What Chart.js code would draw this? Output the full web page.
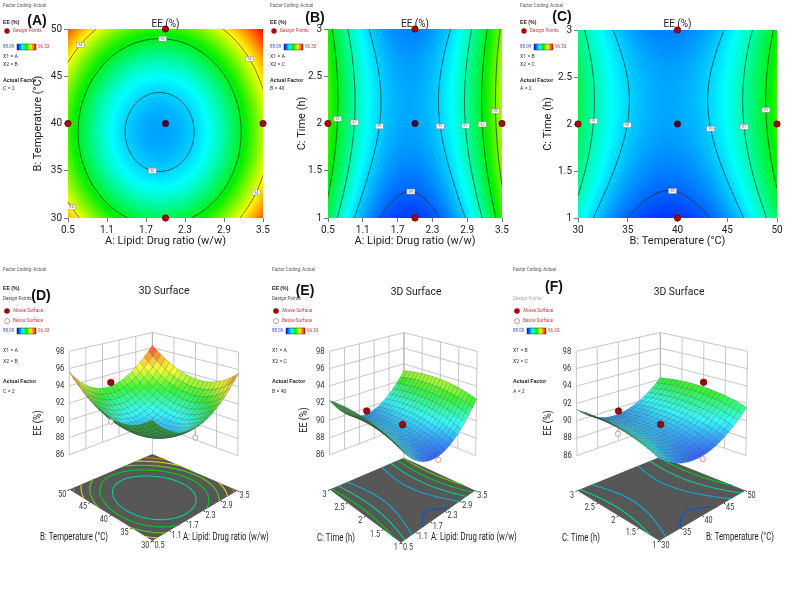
<!DOCTYPE html>
<html><head><meta charset="utf-8">
<script src="https://cdn.jsdelivr.net/npm/chart.js@4.4.1/dist/chart.umd.min.js"></script>
<style>
html,body{margin:0;padding:0;background:#fff;}
#wrap{position:relative;width:788px;height:593px;overflow:hidden;background:#fff}
canvas{position:absolute;left:0;top:0}
</style></head><body><div id="wrap">
<canvas id="cA" width="788" height="593"></canvas>
<canvas id="cB" width="788" height="593"></canvas>
<canvas id="cC" width="788" height="593"></canvas>
<canvas id="cD" width="788" height="593"></canvas>
<canvas id="cE" width="788" height="593"></canvas>
<canvas id="cF" width="788" height="593"></canvas>
</div>
<script>
// ---------------- DATA ----------------
const EE_MIN = 88.09, EE_MAX = 96.33;
const lipidTicks = [0.5, 1.1, 1.7, 2.3, 2.9, 3.5];
const tempTicks  = [30, 35, 40, 45, 50];
const timeTicks  = [1, 1.5, 2, 2.5, 3];
const eeTicks    = [86, 88, 90, 92, 94, 96, 98];

// EE (%) at Lipid:Drug (cols) x Temperature (rows), Time = 2 h
const eeLipidTemp = [
  [94.71, 92.65, 91.70, 91.87, 93.15, 95.55],
  [93.06, 91.00, 90.05, 90.22, 91.50, 93.90],
  [92.66, 90.60, 89.65, 89.82, 91.10, 93.50],
  [93.51, 91.45, 90.50, 90.67, 91.95, 94.35],
  [95.61, 93.55, 92.60, 92.77, 94.05, 96.33]
];
// EE (%) at Lipid:Drug (cols) x Time (rows), Temperature = 40
const eeLipidTime = [
  [91.66, 89.60, 88.65, 88.82, 90.10, 92.50],
  [92.33, 90.27, 89.32, 89.49, 90.77, 93.17],
  [92.66, 90.60, 89.65, 89.82, 91.10, 93.50],
  [92.66, 90.59, 89.64, 89.81, 91.09, 93.49],
  [92.31, 90.25, 89.30, 89.47, 90.75, 93.15]
];
// EE (%) at Temperature (cols) x Time (rows), Lipid:Drug = 2
const eeTempTime = [
  [90.64, 88.99, 88.59, 89.44, 91.54],
  [91.31, 89.66, 89.26, 90.11, 92.21],
  [91.64, 89.99, 89.59, 90.44, 92.54],
  [91.64, 89.99, 89.59, 90.44, 92.54],
  [91.29, 89.64, 89.24, 90.09, 92.19]
];

const levelsLipidTemp = [90, 92, 94];
const levelsLipidTime = [89, 90, 91, 92, 93];
const levelsTempTime  = [89, 90, 91, 92];
const floorLevelsLipidTemp = [91, 92, 93, 94, 95];
const floorLevelsLipidTime = [89, 90, 91, 92, 93];
const floorLevelsTempTime  = [89, 90, 91, 92];

const designLipidTemp = [[0.5, 40], [3.5, 40], [2, 30], [2, 50], [2, 40]];
const designLipidTime = [[0.5, 2], [3.5, 2], [2, 1], [2, 3], [2, 2]];
const designTempTime  = [[30, 2], [50, 2], [40, 1], [40, 3], [40, 2]];

// visible design points on the 3D plots: [x1, x2, EE]
const pointsD = [[2, 50, 93.0], [0.5, 40, 92.3], [2, 30, 90.6]];
const pointsE = [[2, 3, 89.6], [2, 2, 90.1], [2, 1, 88.2]];
const pointsF = [[40, 3, 89.6], [50, 2, 93.1], [40, 2, 90.1], [30, 2, 91.0], [40, 1, 88.2]];

// contour label anchors: [level, x, y]
const labelsA = [[90, 1.8, 35.2], [92, 1.95, 48.9], [94, 0.68, 48.3], [94, 3.28, 46.8], [94, 0.6, 31.3], [94, 3.35, 32.9]];
const labelsB = [[92, 0.67, 2.05], [91, 0.96, 2.0], [90, 1.36, 1.97], [90, 2.43, 1.97], [91, 2.83, 1.98], [92, 3.11, 1.98], [93, 3.34, 2.12], [89, 1.94, 1.31]];
const labelsC = [[91, 31.74, 2.02], [90, 35.09, 1.98], [90, 43.4, 1.96], [91, 46.6, 1.96], [92, 48.66, 2.15], [89, 39.5, 1.30]];

// ---------------- HELPERS ----------------
const FF = '"Roboto","Liberation Sans",sans-serif';
const FB = '"Liberation Sans",Arial,sans-serif';
const Z_FLOOR = 82, Z_TOP = 98;
const CM = [[0, [0, 0, 255]], [0.28, [0, 255, 255]], [0.5, [0, 240, 0]], [0.72, [255, 255, 0]], [1, [255, 0, 0]]];
function cmap(v) {
  let t = (v - EE_MIN) / (EE_MAX - EE_MIN); t = Math.max(0, Math.min(1, t));
  for (let k = 1; k < CM.length; k++) if (t <= CM[k][0]) {
    const [t0, c0] = CM[k - 1], [t1, c1] = CM[k]; const f = (t - t0) / (t1 - t0);
    return c0.map((c, i) => Math.round(c + (c1[i] - c) * f));
  }
  return CM[CM.length - 1][1];
}
const rgb = c => `rgb(${c[0]},${c[1]},${c[2]})`;
function cr(p0, p1, p2, p3, f) { return 0.5 * (2 * p1 + (-p0 + p2) * f + (2 * p0 - 5 * p1 + 4 * p2 - p3) * f * f + (-p0 + 3 * p1 - 3 * p2 + p3) * f * f * f); }
function sample1(arr, t) {
  const n = arr.length; let i = Math.floor(t); if (i < 0) i = 0; if (i > n - 2) i = n - 2; const f = t - i;
  const g = k => k < 0 ? 3 * arr[0] - 3 * arr[1] + arr[2] : k > n - 1 ? 3 * arr[n - 1] - 3 * arr[n - 2] + arr[n - 3] : arr[k];
  return cr(g(i - 1), g(i), g(i + 1), g(i + 2), f);
}
function makeField(xs, ys, grid) {
  const x0 = xs[0], dx = xs[1] - xs[0], y0 = ys[0], dy = ys[1] - ys[0];
  return (x, y) => { const tx = (x - x0) / dx, ty = (y - y0) / dy; return sample1(grid.map(r => sample1(r, tx)), ty); };
}
function sampleField(field, x0, x1, y0, y1, N) {
  const v = new Float64Array((N + 1) * (N + 1));
  for (let j = 0; j <= N; j++) for (let i = 0; i <= N; i++) v[j * (N + 1) + i] = field(x0 + (x1 - x0) * i / N, y0 + (y1 - y0) * j / N);
  return { v, N, x0, x1, y0, y1 };
}
function isoSegments(S, L) {
  const { v, N, x0, x1, y0, y1 } = S, segs = [];
  const X = i => x0 + (x1 - x0) * i / N, Y = j => y0 + (y1 - y0) * j / N;
  for (let j = 0; j < N; j++) for (let i = 0; i < N; i++) {
    const a = v[j * (N + 1) + i], b = v[j * (N + 1) + i + 1], c = v[(j + 1) * (N + 1) + i + 1], d = v[(j + 1) * (N + 1) + i];
    const pts = [];
    const edge = (va, vb, xa, ya, xb, yb) => { if ((va < L) !== (vb < L)) { const t = (L - va) / (vb - va); pts.push([xa + (xb - xa) * t, ya + (yb - ya) * t]); } };
    edge(a, b, X(i), Y(j), X(i + 1), Y(j));
    edge(b, c, X(i + 1), Y(j), X(i + 1), Y(j + 1));
    edge(c, d, X(i + 1), Y(j + 1), X(i), Y(j + 1));
    edge(d, a, X(i), Y(j + 1), X(i), Y(j));
    if (pts.length === 2) segs.push([pts[0], pts[1]]);
    else if (pts.length === 4) { segs.push([pts[0], pts[1]]); segs.push([pts[2], pts[3]]); }
  }
  return segs;
}
function txt(ctx, s, x, y, o = {}) {
  ctx.save();
  ctx.font = (o.bold ? 'bold ' : '') + (o.size || 5.5) + 'px ' + (o.family || FF);
  ctx.fillStyle = o.color || '#333'; ctx.textAlign = o.align || 'left'; ctx.textBaseline = 'middle';
  ctx.translate(x, y);
  if (o.rot) ctx.rotate(o.rot);
  ctx.scale(o.sx || 1, 1);
  ctx.fillText(s, 0, 0);
  ctx.restore();
}
function colorBar(ctx, x, y) {
  txt(ctx, '88.09', x, y, { color: '#3a4fd0', size: 5, sx: 0.9 });
  const g = ctx.createLinearGradient(x + 14, 0, x + 33, 0);
  CM.forEach(([t, c]) => g.addColorStop(t, rgb(c)));
  ctx.fillStyle = g; ctx.fillRect(x + 14, y - 3, 19, 6);
  ctx.strokeStyle = '#333'; ctx.lineWidth = 0.5; ctx.strokeRect(x + 14, y - 3, 19, 6);
  txt(ctx, '96.33', x + 35, y, { color: '#d03a3a', size: 5, sx: 0.9 });
}
function legend2D(ctx, x, c) {
  txt(ctx, 'Factor Coding: Actual', x, 6, { color: '#555', size: 5, sx: 0.9 });
  txt(ctx, 'EE (%)', x, 23, { bold: true, size: 5.2, color: '#222', family: FB });
  ctx.fillStyle = '#a80808'; ctx.beginPath(); ctx.arc(x + 4, 31, 2.7, 0, 7); ctx.fill();
  txt(ctx, 'Design Points', x + 10, 31, { color: '#c83a3a', size: 5.2, sx: 0.9 });
  colorBar(ctx, x, 47);
  txt(ctx, c.x1, x, 57, { size: 5.2 }); txt(ctx, c.x2, x, 65, { size: 5.2 });
  txt(ctx, 'Actual Factor', x, 81, { bold: true, size: 5.2, color: '#222', family: FB });
  txt(ctx, c.af, x, 89, { size: 5.2 });
}
function legend3D(ctx, x, c) {
  txt(ctx, 'Factor Coding: Actual', x, 270, { color: '#555', size: 5, sx: 0.9 });
  if (!c.hideEE) txt(ctx, 'EE (%)', x, 289, { bold: true, size: 5.2, color: '#222', family: FB });
  txt(ctx, 'Design Points', x, 299, { size: 5.2, sx: 0.9, color: c.hideEE ? '#aaa' : '#444' });
  ctx.fillStyle = '#a00808'; ctx.beginPath(); ctx.arc(x + 4, 311, 2.8, 0, 7); ctx.fill();
  txt(ctx, 'Above Surface', x + 10, 311, { color: '#c83a3a', size: 5.2, sx: 0.9 });
  ctx.strokeStyle = '#d08080'; ctx.lineWidth = 0.8; ctx.beginPath(); ctx.arc(x + 4, 321, 2.6, 0, 7); ctx.stroke();
  txt(ctx, 'Below Surface', x + 10, 321, { color: '#c83a3a', size: 5.2, sx: 0.9 });
  colorBar(ctx, x, 331);
  txt(ctx, c.x1, x, 351, { size: 5.2 }); txt(ctx, c.x2, x, 362, { size: 5.2 });
  txt(ctx, 'Actual Factor', x, 382, { bold: true, size: 5.2, color: '#222', family: FB });
  txt(ctx, c.af, x, 392, { size: 5.2 });
}
function axisOpts(ticks, title, kind, size) {
  return {
    type: 'linear', min: ticks[0], max: ticks[ticks.length - 1],
    afterBuildTicks: s => { s.ticks = ticks.map(v => ({ value: v })); },
    afterFit: s => { if (kind === 'x') s.height = 30; else s.width = size; },
    grid: { display: true, drawOnChartArea: false, drawTicks: true, tickLength: 4, color: '#555', lineWidth: 0.8 },
    border: { display: false },
    ticks: { autoSkip: false, maxRotation: 0, padding: 2, color: '#222', font: { family: FF, size: 10 }, callback: v => String(v) },
    title: { display: true, text: title, color: '#222', font: { family: FF, size: 11 }, padding: 0 }
  };
}

// ---------------- CONTOUR PANELS ----------------
function makeContour(c) {
  const field = makeField(c.xs, c.ys, c.grid);
  const [L, T, R, B] = c.area;
  const plugin = {
    id: 'contour' + c.id,
    beforeDatasetsDraw(chart) {
      const { ctx, chartArea: a, scales: { x, y } } = chart;
      const w = Math.ceil(a.right - a.left), h = Math.ceil(a.bottom - a.top);
      const off = document.createElement('canvas'); off.width = w; off.height = h;
      const o = off.getContext('2d'); const img = o.createImageData(w, h);
      for (let j = 0; j < h; j++) {
        const yv = y.getValueForPixel(a.top + j + 0.5);
        for (let i = 0; i < w; i++) {
          const xv = x.getValueForPixel(a.left + i + 0.5);
          const col = cmap(field(xv, yv)); const k = (j * w + i) * 4;
          img.data[k] = col[0]; img.data[k + 1] = col[1]; img.data[k + 2] = col[2]; img.data[k + 3] = 255;
        }
      }
      o.putImageData(img, 0, 0);
      ctx.save();
      ctx.drawImage(off, a.left, a.top, a.right - a.left, a.bottom - a.top);
      ctx.beginPath(); ctx.rect(a.left, a.top, a.right - a.left, a.bottom - a.top); ctx.clip();
      const S = sampleField(field, x.min, x.max, y.min, y.max, 100);
      const segsBy = {};
      ctx.strokeStyle = 'rgba(20,40,30,0.85)'; ctx.lineWidth = 0.8;
      c.levels.forEach(lv => {
        const segs = isoSegments(S, lv); segsBy[lv] = segs;
        ctx.beginPath();
        segs.forEach(([p, q]) => { ctx.moveTo(x.getPixelForValue(p[0]), y.getPixelForValue(p[1])); ctx.lineTo(x.getPixelForValue(q[0]), y.getPixelForValue(q[1])); });
        ctx.stroke();
      });
      c.labels.forEach(([lv, lx, ly]) => {
        const px = x.getPixelForValue(lx), py = y.getPixelForValue(ly);
        let best = null, bd = 1e9;
        (segsBy[lv] || []).forEach(([p, q]) => {
          const mx = x.getPixelForValue((p[0] + q[0]) / 2), my = y.getPixelForValue((p[1] + q[1]) / 2);
          const d = (mx - px) ** 2 + (my - py) ** 2; if (d < bd) { bd = d; best = [mx, my]; }
        });
        if (!best) return;
        ctx.fillStyle = '#fff'; ctx.fillRect(best[0] - 4, best[1] - 2.5, 8, 5);
        ctx.strokeStyle = '#888'; ctx.lineWidth = 0.5; ctx.strokeRect(best[0] - 4, best[1] - 2.5, 8, 5);
        txt(ctx, String(lv), best[0], best[1] + 0.2, { size: 3.8, align: 'center', color: '#666' });
      });
      ctx.restore();
    },
    afterDraw(chart) {
      const ctx = chart.ctx, a = chart.chartArea;
      txt(ctx, 'EE (%)', (a.left + a.right) / 2, 24, { size: 10, align: 'center', color: '#222' });
      txt(ctx, c.letter, c.letterPos[0], c.letterPos[1], { size: 14, bold: true, align: 'center', color: '#111', family: FB });
      legend2D(ctx, c.legendX, c);
    }
  };
  new Chart(document.getElementById(c.id), {
    type: 'scatter',
    data: { datasets: [{
      data: c.design.map(([x, y]) => ({ x, y })), clip: false,
      pointRadius: 3.2, pointHoverRadius: 3.2,
      pointBackgroundColor: c.design.map((p, i) => i === c.design.length - 1 ? '#3c0a34' : '#a80808'),
      pointBorderColor: '#4a0000', pointBorderWidth: 0.6
    }] },
    options: {
      responsive: false, animation: false, events: [],
      layout: { padding: { left: L - c.yW, top: T, right: 788 - R, bottom: 593 - B - 30 } },
      plugins: { legend: { display: false }, tooltip: { enabled: false } },
      scales: { x: axisOpts(c.xs, c.xTitle, 'x'), y: axisOpts(c.ys, c.yTitle, 'y', c.yW) }
    },
    plugins: [plugin]
  });
}

// ---------------- 3D SURFACE PANELS ----------------
function boxPoint(b, u, v, z) {
  const bl = (F, R, B, L) => [
    (1 - u) * (1 - v) * F[0] + u * (1 - v) * R[0] + u * v * B[0] + (1 - u) * v * L[0],
    (1 - u) * (1 - v) * F[1] + u * (1 - v) * R[1] + u * v * B[1] + (1 - u) * v * L[1]];
  const f = bl(b.F, b.R, b.B, b.L), t = bl(b.tF, b.tR, b.tB, b.tL);
  const s = (z - Z_FLOOR) / (Z_TOP - Z_FLOOR);
  return [f[0] + (t[0] - f[0]) * s, f[1] + (t[1] - f[1]) * s];
}
function makeSurface(c) {
  const field = makeField(c.xs, c.ys, c.grid);
  const xr = [c.xs[0], c.xs[c.xs.length - 1]], yr = [c.ys[0], c.ys[c.ys.length - 1]];
  const toU = a => (a - xr[0]) / (xr[1] - xr[0]), toV = b => (b - yr[0]) / (yr[1] - yr[0]);
  const above = [], below = [];
  c.points.forEach(([a, b, val]) => {
    const u = toU(a), v = toV(b); const p = boxPoint(c.box, u, v, val);
    (val >= field(a, b) ? above : below).push({ x: p[0], y: p[1], u, v, a, b, val });
  });
  const plugin = {
    id: 'surf' + c.id,
    beforeDatasetsDraw(chart) {
      const { ctx, scales: { x, y } } = chart;
      const pr = (u, v, z) => { const p = boxPoint(c.box, u, v, z); return [x.getPixelForValue(p[0]), y.getPixelForValue(p[1])]; };
      const line = (p, q) => { ctx.moveTo(p[0], p[1]); ctx.lineTo(q[0], q[1]); };
      ctx.save();
      // walls
      ctx.strokeStyle = '#b8b8b8'; ctx.lineWidth = 0.8; ctx.beginPath();
      eeTicks.forEach(z => { line(pr(0, 1, z), pr(1, 1, z)); line(pr(1, 0, z), pr(1, 1, z)); });
      c.xs.forEach(t => { const u = toU(t); line(pr(u, 1, eeTicks[0]), pr(u, 1, Z_TOP)); });
      c.ys.forEach(t => { const v = toV(t); line(pr(1, v, eeTicks[0]), pr(1, v, Z_TOP)); });
      line(pr(1, 1, Z_FLOOR), pr(1, 1, Z_TOP));
      ctx.stroke();
      // floor
      const fc = [pr(0, 0, Z_FLOOR), pr(1, 0, Z_FLOOR), pr(1, 1, Z_FLOOR), pr(0, 1, Z_FLOOR)];
      ctx.fillStyle = '#575757'; ctx.beginPath(); fc.forEach((p, i) => i ? ctx.lineTo(p[0], p[1]) : ctx.moveTo(p[0], p[1])); ctx.closePath(); ctx.fill();
      const S = sampleField(field, xr[0], xr[1], yr[0], yr[1], 70);
      ctx.lineWidth = 1.1;
      c.floorLevels.forEach(lv => {
        const cc = cmap(lv).map(v => Math.round(v * 0.85));
        ctx.strokeStyle = rgb(cc); ctx.beginPath();
        isoSegments(S, lv).forEach(([p, q]) => line(pr(toU(p[0]), toV(p[1]), Z_FLOOR), pr(toU(q[0]), toV(q[1]), Z_FLOOR)));
        ctx.stroke();
      });
      // floor edge ticks
      ctx.strokeStyle = '#111'; ctx.lineWidth = 1; ctx.beginPath();
      c.xs.forEach(t => { const p = pr(toU(t), 0, Z_FLOOR); line(p, [p[0] + 1.5, p[1] + 1.5]); });
      c.ys.forEach(t => { const p = pr(0, toV(t), Z_FLOOR); line(p, [p[0] - 1.5, p[1] + 1.5]); });
      ctx.stroke();
      // surface
      const N = 20, nodes = [];
      for (let i = 0; i <= N; i++) { nodes.push([]); for (let j = 0; j <= N; j++) {
        const u = i / N, v = j / N, val = field(xr[0] + u * (xr[1] - xr[0]), yr[0] + v * (yr[1] - yr[0]));
        nodes[i].push({ p: pr(u, v, val), u, v, s: (val - Z_FLOOR) / (Z_TOP - Z_FLOOR) * 0.85, val });
      } }
      const quads = [];
      for (let i = 0; i < N; i++) for (let j = 0; j < N; j++) quads.push([i, j]);
      quads.sort((q1, q2) => (q2[0] + q2[1]) - (q1[0] + q1[1]));
      const Ld = [-0.45, -0.55, 0.70];
      quads.forEach(([i, j]) => {
        const n = [nodes[i][j], nodes[i + 1][j], nodes[i + 1][j + 1], nodes[i][j + 1]];
        let area = 0; for (let k = 0; k < 4; k++) { const p = n[k].p, q = n[(k + 1) % 4].p; area += p[0] * q[1] - q[0] * p[1]; }
        const avg = (n[0].val + n[1].val + n[2].val + n[3].val) / 4;
        const du = [n[1].u - n[0].u, 0, (n[1].s - n[0].s + n[2].s - n[3].s) / 2], dv = [0, n[3].v - n[0].v, (n[3].s - n[0].s + n[2].s - n[1].s) / 2];
        const nx = du[1] * dv[2] - du[2] * dv[1], ny = du[2] * dv[0] - du[0] * dv[2], nz = du[0] * dv[1] - du[1] * dv[0];
        const nl = Math.hypot(nx, ny, nz) || 1;
        const dot = Math.max(0, (nx * Ld[0] + ny * Ld[1] + nz * Ld[2]) / nl);
        let col = cmap(avg);
        if (area > 0) col = [55, 145, 55];
        else { const sh = 0.74 + 0.3 * dot; col = col.map(cc => Math.min(255, Math.round((cc * 0.8 + 255 * 0.2) * sh))); }
        ctx.beginPath(); n.forEach((nd, k) => k ? ctx.lineTo(nd.p[0], nd.p[1]) : ctx.moveTo(nd.p[0], nd.p[1])); ctx.closePath();
        ctx.fillStyle = rgb(col); ctx.fill();
        ctx.strokeStyle = 'rgba(45,60,60,0.42)'; ctx.lineWidth = 0.5; ctx.stroke();
      });
      // stems for below-surface points
      ctx.strokeStyle = '#c9a3a3'; ctx.lineWidth = 0.8; ctx.beginPath();
      below.forEach(pt => line(pr(pt.u, pt.v, pt.val), pr(pt.u, pt.v, field(pt.a, pt.b))));
      ctx.stroke();
      ctx.restore();
    },
    afterDraw(chart) {
      const { ctx, scales: { x, y } } = chart;
      const pr = (u, v, z) => { const p = boxPoint(c.box, u, v, z); return [x.getPixelForValue(p[0]), y.getPixelForValue(p[1])]; };
      txt(ctx, '3D Surface', c.titlePos[0], c.titlePos[1], { size: 11.5, align: 'center', color: '#222', sx: 0.9 });
      txt(ctx, c.letter, c.letterPos[0], c.letterPos[1], { size: 14, bold: true, align: 'center', color: '#111', family: FB });
      legend3D(ctx, c.legendX, c);
      eeTicks.forEach(z => { const p = pr(0, 1, z); txt(ctx, String(z), p[0] - 5, p[1], { size: 9, align: 'right', color: '#333', sx: 0.85 }); });
      txt(ctx, 'EE (%)', c.zTitlePos[0], c.zTitlePos[1], { size: 10, align: 'center', color: '#222', rot: -Math.PI / 2, sx: 0.9 });
      c.xs.forEach(t => { const p = pr(toU(t), 0, Z_FLOOR); txt(ctx, String(t), p[0] + 2, p[1] + 5, { size: 8.5, color: '#333', sx: 0.85 }); });
      c.ys.forEach(t => { const p = pr(0, toV(t), Z_FLOOR); txt(ctx, String(t), p[0] - 3, p[1] + 5, { size: 8.5, align: 'right', color: '#333', sx: 0.85 }); });
      txt(ctx, c.uTitle, c.uTitlePos[0], c.uTitlePos[1], { size: 10, color: '#222', sx: 0.78 });
      txt(ctx, c.vTitle, c.vTitlePos[0], c.vTitlePos[1], { size: 10, align: 'right', color: '#222', sx: 0.78 });
    }
  };
  new Chart(document.getElementById(c.id), {
    type: 'scatter',
    data: { datasets: [
      { data: below, clip: false, pointRadius: 2.6, pointHoverRadius: 2.6, pointBackgroundColor: 'rgba(255,255,255,0.85)', pointBorderColor: '#d48a8a', pointBorderWidth: 0.9 },
      { data: above, clip: false, pointRadius: 3.3, pointHoverRadius: 3.3, pointBackgroundColor: '#a00808', pointBorderColor: '#5a0000', pointBorderWidth: 0.6 }
    ] },
    options: {
      responsive: false, animation: false, events: [],
      layout: { padding: 0 },
      plugins: { legend: { display: false }, tooltip: { enabled: false } },
      scales: {
        x: { type: 'linear', min: 0, max: 788, display: false },
        y: { type: 'linear', min: 0, max: 593, reverse: true, display: false }
      }
    },
    plugins: [plugin]
  });
}

makeContour({ id: 'cA', xs: lipidTicks, ys: tempTicks, grid: eeLipidTemp, levels: levelsLipidTemp, labels: labelsA, design: designLipidTemp,
  xTitle: 'A: Lipid: Drug ratio (w/w)', yTitle: 'B: Temperature (°C)', area: [68, 29, 263, 218], yW: 36,
  letter: '(A)', letterPos: [37, 21], legendX: 3, x1: 'X1 = A', x2: 'X2 = B', af: 'C = 2' });
makeContour({ id: 'cB', xs: lipidTicks, ys: timeTicks, grid: eeLipidTime, levels: levelsLipidTime, labels: labelsB, design: designLipidTime,
  xTitle: 'A: Lipid: Drug ratio (w/w)', yTitle: 'C: Time (h)', area: [328, 29, 502, 218], yW: 32,
  letter: '(B)', letterPos: [315, 18], legendX: 270, x1: 'X1 = A', x2: 'X2 = C', af: 'B = 40' });
makeContour({ id: 'cC', xs: tempTicks, ys: timeTicks, grid: eeTempTime, levels: levelsTempTime, labels: labelsC, design: designTempTime,
  xTitle: 'B: Temperature (°C)', yTitle: 'C: Time (h)', area: [578, 30, 777, 218], yW: 36,
  letter: '(C)', letterPos: [562, 17], legendX: 520, x1: 'X1 = B', x2: 'X2 = C', af: 'A = 2' });

makeSurface({ id: 'cD', xs: lipidTicks, ys: tempTicks, grid: eeLipidTemp, floorLevels: floorLevelsLipidTemp, points: pointsD,
  uTitle: 'A: Lipid: Drug ratio (w/w)', vTitle: 'B: Temperature (°C)',
  box: { F: [150, 544], R: [236, 493], B: [150, 456], L: [66, 492], tF: [150, 390], tR: [237, 353], tB: [150, 333], tL: [66, 352] },
  uTitlePos: [183, 537], vTitlePos: [108, 537], zTitlePos: [38, 423], titlePos: [164, 291],
  letter: '(D)', letterPos: [41, 296], legendX: 3, x1: 'X1 = A', x2: 'X2 = B', af: 'C = 2' });
makeSurface({ id: 'cE', xs: lipidTicks, ys: timeTicks, grid: eeLipidTime, floorLevels: floorLevelsLipidTime, points: pointsE,
  uTitle: 'A: Lipid: Drug ratio (w/w)', vTitle: 'C: Time (h)',
  box: { F: [401, 546], R: [476, 493], B: [404, 460], L: [329, 492], tF: [401, 390], tR: [478, 352], tB: [404, 333], tL: [329, 352] },
  uTitlePos: [431, 537], vTitlePos: [355, 538], zTitlePos: [304, 420], titlePos: [416, 292],
  letter: '(E)', letterPos: [305, 291], legendX: 272, x1: 'X1 = A', x2: 'X2 = C', af: 'B = 40' });
makeSurface({ id: 'cF', xs: tempTicks, ys: timeTicks, grid: eeTempTime, floorLevels: floorLevelsTempTime, points: pointsF,
  uTitle: 'B: Temperature (°C)', vTitle: 'C: Time (h)',
  box: { F: [662, 544], R: [749, 493], B: [663, 459], L: [579, 493], tF: [662, 390], tR: [751, 352], tB: [663, 333], tL: [578, 352] },
  uTitlePos: [706, 537], vTitlePos: [600, 538], zTitlePos: [548, 423], titlePos: [679, 292],
  letter: '(F)', letterPos: [554, 287], legendX: 513, x1: 'X1 = B', x2: 'X2 = C', af: 'A = 2', hideEE: true });
</script></body></html>
